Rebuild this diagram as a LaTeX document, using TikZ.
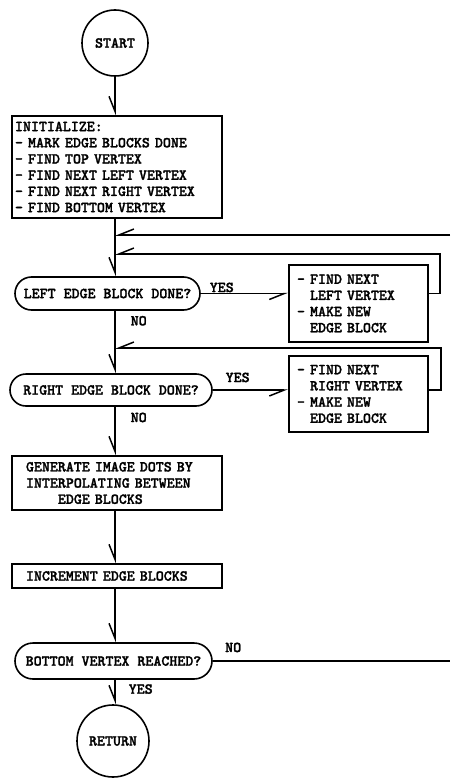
\documentclass[tikz,border=0pt]{standalone}
\usepackage{fontspec}
\newfontfamily\typewriter{lmmonolt10-bold.otf}[FakeBold=1.6]
\usetikzlibrary{arrows.meta,positioning,shapes.geometric}

\begin{document}
\begin{tikzpicture}[
    x=1pt, y=-1pt,
    line width=1.5pt,
    font=\typewriter\fontsize{15.2}{16.2}\selectfont,
    proc/.style={rectangle, draw, line width=1.6pt, align=left},
    test/.style={rectangle, draw, line width=1.6pt, inner xsep=0pt},
    term/.style={circle, draw, line width=1.6pt, inner sep=0pt},
    flow/.style={-{Straight Barb[harpoon, swap, length=15pt, width=12pt]}},
    lbl/.style={inner sep=0pt}
]
\useasboundingbox (0,0) rectangle (450,781);

% Nodes
\node[term, minimum size=66pt] (start) at (115,43) {START};
\node[proc, minimum height=102pt, text width=204pt, inner xsep=3pt] (init) at (117,167)
    {INITIALIZE:\\- MARK EDGE BLOCKS DONE\\- FIND TOP VERTEX\\- FIND NEXT LEFT VERTEX\\- FIND NEXT RIGHT VERTEX\\- FIND BOTTOM VERTEX};

\node[test, minimum width=185pt, minimum height=33pt, rounded corners=16.5pt] (left) at (107.5,293.5) {LEFT EDGE BLOCK DONE?};
\node[proc, minimum height=77pt, text width=123pt, inner xsep=8pt] (findl) at (358.5,303.5)
    {- FIND NEXT\\\hphantom{- }LEFT VERTEX\\- MAKE NEW\\\hphantom{- }EDGE BLOCK};

\node[test, minimum width=202pt, minimum height=32pt, rounded corners=16pt] (right) at (111,390) {RIGHT EDGE BLOCK DONE?};
\node[proc, minimum height=76pt, text width=123pt, inner xsep=8pt] (findr) at (358.5,394)
    {- FIND NEXT\\\hphantom{- }RIGHT VERTEX\\- MAKE NEW\\\hphantom{- }EDGE BLOCK};

\node[proc, minimum height=54pt, text width=182pt, inner xsep=14pt] (gen) at (117,483)
    {GENERATE IMAGE DOTS BY\\INTERPOLATING BETWEEN\\\hphantom{EDGE}EDGE BLOCKS};
\node[proc, minimum height=24pt, text width=182pt, inner xsep=14pt, inner ysep=0pt] (inc) at (117,576)
    {INCREMENT EDGE BLOCKS};

\node[test, minimum width=197pt, minimum height=36pt, rounded corners=18pt] (bottom) at (113.5,661) {BOTTOM VERTEX REACHED?};
\node[term, minimum size=72pt] (ret) at (113,741) {RETURN};

\coordinate (inA) at (450,235);
\coordinate (outA) at (450,661);
\coordinate (backl) at (115,254);
\coordinate (backr) at (115,348);

% Arrows
\draw[flow] (start.south) -- (start.south |- init.north);
\draw[flow] (init.south -| start) -- (start |- left.north);
\draw[flow] (inA) -- (inA -| start);
\draw[flow] (findl.east |- left.east) -- ++(11,0) |- (backl);
\draw[flow] (left.east) -- (left.east -| findl.west) node[lbl, pos=0.24, above=0.5pt] {YES};
\draw[flow] (start |- left.south) -- (start |- right.north) node[lbl, pos=0.16, right=15pt] {NO};

\draw[flow] (findr.east |- right.east) -- ++(12,0) |- (backr);
\draw[flow] (right.east) -- (right.east -| findr.west) node[lbl, pos=0.33, above=7pt] {YES};
\draw[flow] (start |- right.south) -- (start |- gen.north) node[lbl, pos=0.22, right=15pt] {NO};

\draw[flow] (start |- gen.south) -- (start |- inc.north);
\draw[flow] (start |- inc.south) -- (start |- bottom.north);
\draw (bottom.east) -- (outA) node[lbl, pos=0.086, above=8pt] {NO};
\draw[flow] (start |- bottom.south) -- (start |- ret.north) node[lbl, pos=0.38, right=13pt] {YES};
\end{tikzpicture}
\end{document}
